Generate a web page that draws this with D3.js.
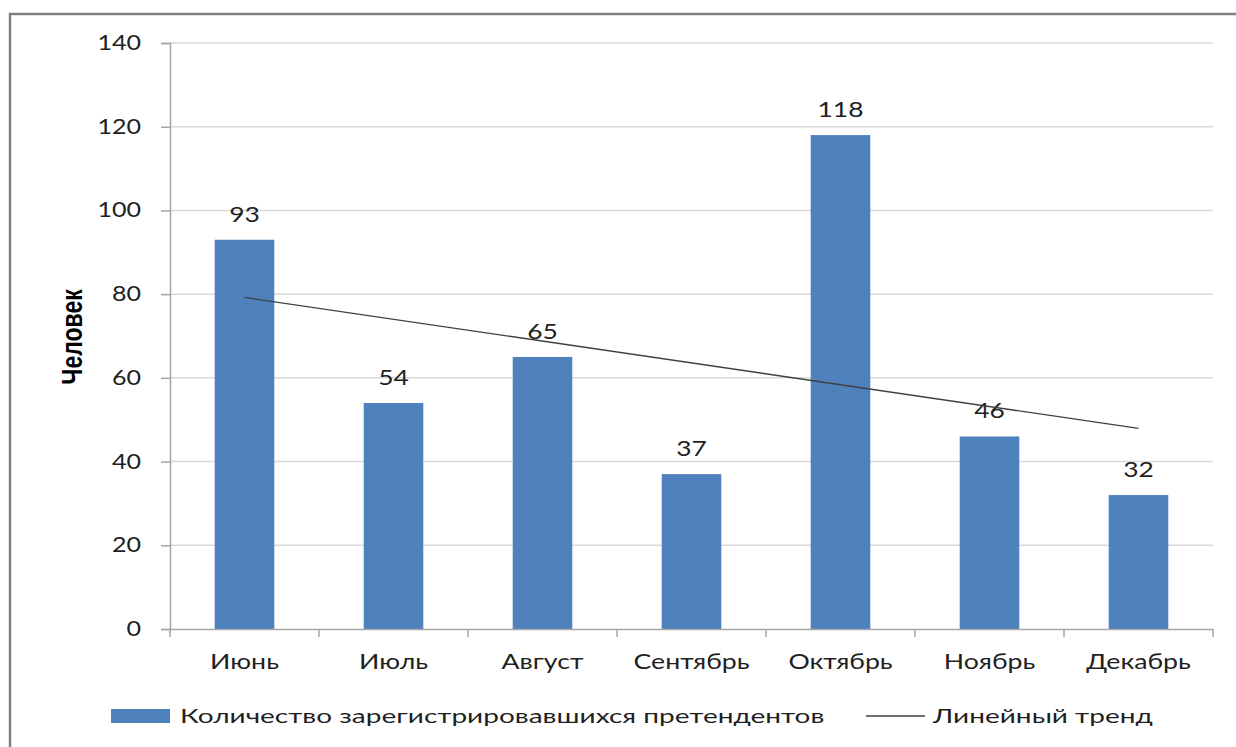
<!DOCTYPE html>
<html><head><meta charset="utf-8">
<script src="https://cdn.jsdelivr.net/npm/d3@7"></script>
<style>body{margin:0;background:#fff}svg{display:block}</style>
</head><body>
<svg id="c" width="1236" height="747"></svg>
<script>
const months = ["Июнь","Июль","Август","Сентябрь","Октябрь","Ноябрь","Декабрь"];
const values = [93,54,65,37,118,46,32];
const yTicks = [0,20,40,60,80,100,120,140];
const seriesName = "Количество зарегистрировавшихся претендентов";
const trendName = "Линейный тренд";
const yTitle = "Человек";

const svg = d3.select("#c");
const font = "Lato, 'Open Sans', sans-serif";
const L = 170, R = 1213, T = 43, B = 629;

svg.append("rect").attr("x",10).attr("y",14).attr("width",1240).attr("height",760)
  .attr("fill","none").attr("stroke","#7f7f7f").attr("stroke-width",2.5);

const x = d3.scaleBand().domain(months).range([L,R]).padding(0);
const y = d3.scaleLinear().domain([0,140]).range([B,T]);
const barW = x.bandwidth()*0.4;

function txt(g, px, py, s, size, anchor, sx){
  return g.append("text").attr("transform",`translate(${px},${py}) scale(${sx},1)`)
    .attr("text-anchor",anchor).attr("font-family",font).attr("font-size",size)
    .attr("fill","#1f1f1f").text(s);
}

svg.append("g").selectAll("line").data(yTicks.filter(t=>t>0)).join("line")
  .attr("x1",L).attr("x2",R).attr("y1",d=>y(d)).attr("y2",d=>y(d))
  .attr("stroke","#d9d9d9").attr("stroke-width",1.5);

const yAx = svg.append("g").attr("transform",`translate(${L},0)`)
  .call(d3.axisLeft(y).tickValues(yTicks).tickSize(9).tickFormat(""));
yAx.select(".domain").attr("stroke","#a6a6a6").attr("stroke-width",1.5);
yAx.selectAll(".tick line").attr("stroke","#a6a6a6").attr("stroke-width",1.5);
const gl = svg.append("g");
yTicks.forEach(t=>txt(gl, L-29, y(t)+7, t, 22, "end", 1.14));

svg.append("g").selectAll("rect").data(values).join("rect")
  .attr("x",(d,i)=>x(months[i])+(x.bandwidth()-barW)/2)
  .attr("y",d=>y(d)).attr("width",barW).attr("height",d=>B-y(d))
  .attr("fill","#4f81bd");

const xAx = svg.append("g").attr("transform",`translate(0,${B})`)
  .call(d3.axisBottom(x).tickSize(0).tickFormat(""));
xAx.select(".domain").attr("stroke","#a6a6a6").attr("stroke-width",1.5);
svg.append("g").selectAll("line").data(d3.range(months.length+1)).join("line")
  .attr("x1",i=>i<months.length?x(months[i]):R).attr("x2",i=>i<months.length?x(months[i]):R)
  .attr("y1",B).attr("y2",B+8).attr("stroke","#a6a6a6").attr("stroke-width",1.5);
months.forEach(m=>txt(gl, x(m)+x.bandwidth()/2, 669, m, 21, "middle", 1.27));

values.forEach((v,i)=>txt(gl, x(months[i])+x.bandwidth()/2, y(v)-18, v, 22, "middle", 1.2));

const n = values.length, xs = values.map((d,i)=>i+1);
const mx = d3.mean(xs), my = d3.mean(values);
const slope = d3.sum(xs.map((xx,i)=>(xx-mx)*(values[i]-my)))/d3.sum(xs.map(xx=>(xx-mx)**2));
const icpt = my - slope*mx;
const trend = [1,n].map(k=>[x(months[k-1])+x.bandwidth()/2, y(icpt+slope*k)]);
svg.append("path").attr("d",d3.line()(trend)).attr("stroke","#404040").attr("stroke-width",1.3).attr("fill","none");

svg.append("text").attr("transform","translate(82,337) rotate(-90) scale(1,1.3)")
  .attr("text-anchor","middle").attr("font-family","'Liberation Sans Narrow', 'Liberation Sans', sans-serif").attr("font-weight","bold")
  .attr("font-size",23).attr("fill","#000").text(yTitle);

svg.append("rect").attr("x",111).attr("y",709).attr("width",59).attr("height",14).attr("fill","#4f81bd");
txt(gl, 180, 723, seriesName, 20, "start", 1.4);
svg.append("line").attr("x1",866).attr("x2",925).attr("y1",716).attr("y2",716).attr("stroke","#404040").attr("stroke-width",1.3);
txt(gl, 933, 723, trendName, 20, "start", 1.4);
</script>
</body></html>
